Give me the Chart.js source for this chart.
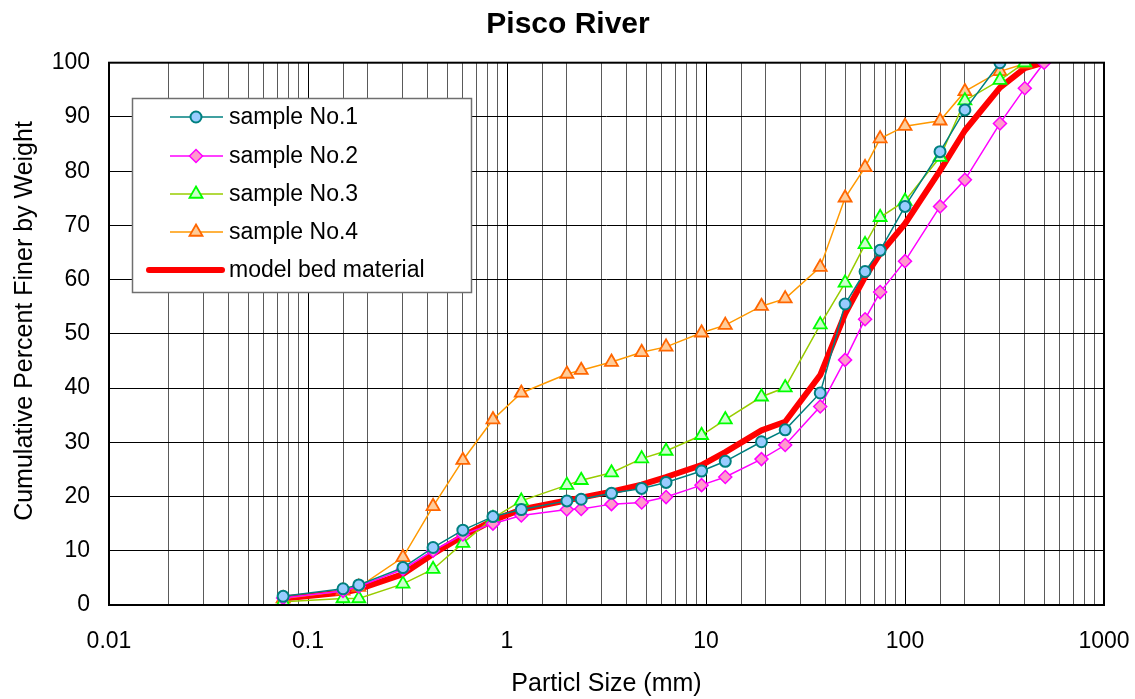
<!DOCTYPE html>
<html>
<head>
<meta charset="utf-8">
<title>Pisco River</title>
<script src="https://cdn.jsdelivr.net/npm/chart.js@4/dist/chart.umd.min.js"></script>
<style>
  html, body { margin: 0; padding: 0; background: #fff; }
  #wrap { width: 1135px; height: 699px; position: relative; }
</style>
</head>
<body>
<div id="wrap"><canvas id="gradChart"></canvas></div>
<script>
// sieve sizes (mm), shared by every series
const sieveSizes = [0.075, 0.15, 0.18, 0.3, 0.425, 0.6, 0.85, 1.18, 2, 2.36, 3.35, 4.75, 6.3,
  9.5, 12.5, 19, 25, 37.5, 50, 63, 75, 100, 150, 200, 300, 400, 500];

// cumulative percent finer
const sample1 = [1.6, 3.0, 3.7, 6.9, 10.6, 13.8, 16.3, 17.6, 19.2, 19.5, 20.6, 21.5, 22.6,
  24.7, 26.5, 30.1, 32.3, 39.1, 55.5, 61.5, 65.4, 73.5, 83.6, 91.3, 100];
const sample2 = [1.3, 2.6, 3.4, 6.6, 10.0, 13.0, 15.0, 16.5, 17.6, 17.7, 18.6, 18.9, 19.9,
  22.1, 23.6, 26.9, 29.5, 36.6, 45.2, 52.7, 57.7, 63.4, 73.5, 78.4, 88.8, 95.3, 100];
const sample3 = [0.6, 1.2, 1.2, 3.9, 6.6, 11.4, 16.0, 19.2, 22.1, 23.0, 24.4, 27.0, 28.4,
  31.3, 34.2, 38.4, 40.1, 51.7, 59.4, 66.5, 71.5, 74.5, 82.6, 93.0, 96.8, 100];
const sample4 = [1.2, 2.6, 3.3, 8.8, 18.2, 26.7, 34.2, 39.1, 42.6, 43.3, 44.8, 46.6, 47.6,
  50.2, 51.6, 55.1, 56.5, 62.3, 75.1, 80.7, 86.0, 88.3, 89.3, 94.7, 98.4, 99.8];
const modelBed = [1.2, 2.3, 2.9, 5.7, 9.4, 12.7, 15.6, 17.6, 19.3, 19.8, 20.9, 22.2, 23.6,
  25.8, 28.2, 32.2, 33.8, 42.4, 53.7, 60.5, 64.8, 70.3, 80.1, 87.5, 95.4, 99.0, 100];

const seriesNames = ['sample No.1', 'sample No.2', 'sample No.3', 'sample No.4', 'model bed material'];
const xTickValues = [0.01, 0.1, 1, 10, 100, 1000];
const xTickLabels = ['0.01', '0.1', '1', '10', '100', '1000'];

const FONT = "'Liberation Sans', Arial, sans-serif";

function toPoints(arr) {
  return arr.map((y, i) => ({ x: sieveSizes[i], y: y }));
}

function isDecade(v) {
  const e = Math.round(Math.log10(v));
  return Math.abs(v - Math.pow(10, e)) < Math.pow(10, e) * 1e-6;
}

// titles, frame and legend box drawn on top
const extras = {
  id: 'extras',
  afterDraw(chart) {
    const ctx = chart.ctx;
    const a = chart.chartArea;
    ctx.save();

    // plot frame
    ctx.strokeStyle = '#000';
    ctx.lineWidth = 2;
    ctx.strokeRect(a.left, a.top, a.right - a.left, a.bottom - a.top);

    // chart title
    ctx.fillStyle = '#000';
    ctx.font = 'bold 30px ' + FONT;
    ctx.textAlign = 'center';
    ctx.textBaseline = 'middle';
    ctx.fillText('Pisco River', 568, 25);

    // y title
    ctx.save();
    ctx.translate(25, 321);
    ctx.rotate(-Math.PI / 2);
    ctx.font = '25px ' + FONT;
    ctx.fillText('Cumulative Percent Finer by Weight', 0, 0);
    ctx.restore();

    // legend
    const lx = 132.5, ly = 98.5, lw = 339, lh = 194;
    ctx.fillStyle = '#fff';
    ctx.fillRect(lx, ly, lw, lh);
    ctx.strokeStyle = '#6f6f6f';
    ctx.lineWidth = 1.5;
    ctx.strokeRect(lx, ly, lw, lh);

    const rows = [117, 156, 194, 232, 270];
    ctx.font = '23px ' + FONT;
    ctx.textAlign = 'left';
    chart.data.datasets.forEach((ds, i) => {
      const y = rows[i];
      ctx.beginPath();
      ctx.strokeStyle = ds.borderColor;
      ctx.lineWidth = ds.borderWidth;
      ctx.lineCap = i === 4 ? 'round' : 'butt';
      ctx.moveTo(i === 4 ? 149 : 170, y);
      ctx.lineTo(i === 4 ? 222 : 223, y);
      ctx.stroke();
      if (ds.pointRadius > 0) {
        ctx.fillStyle = ds.pointBackgroundColor;
        ctx.strokeStyle = ds.pointBorderColor;
        ctx.lineWidth = ds.pointBorderWidth;
        Chart.helpers.drawPoint(ctx, {
          pointStyle: ds.pointStyle, radius: ds.pointRadius, rotation: 0, borderWidth: ds.pointBorderWidth
        }, 196, y);
      }
      ctx.fillStyle = '#000';
      ctx.fillText(ds.label, 229, y + 1);
    });
    ctx.restore();
  }
};

const ctx = document.getElementById('gradChart').getContext('2d');

new Chart(ctx, {
  type: 'line',
  data: {
    datasets: [
      {
        label: seriesNames[0], data: toPoints(sample1),
        borderColor: '#008080', borderWidth: 1.5,
        pointStyle: 'circle', pointRadius: 5.5, pointBorderWidth: 2,
        pointBackgroundColor: '#99CCFF', pointBorderColor: '#008080'
      },
      {
        label: seriesNames[1], data: toPoints(sample2),
        borderColor: '#FF00FF', borderWidth: 1.5,
        pointStyle: 'rectRot', pointRadius: 6.5, pointBorderWidth: 1.5,
        pointBackgroundColor: '#FF99CC', pointBorderColor: '#FF00FF'
      },
      {
        label: seriesNames[2], data: toPoints(sample3),
        borderColor: '#99CC00', borderWidth: 1.5,
        pointStyle: 'triangle', pointRadius: 7.5, pointBorderWidth: 1.8,
        pointBackgroundColor: '#CCFFCC', pointBorderColor: '#00FF00'
      },
      {
        label: seriesNames[3], data: toPoints(sample4),
        borderColor: '#FF9900', borderWidth: 1.5,
        pointStyle: 'triangle', pointRadius: 7.5, pointBorderWidth: 1.8,
        pointBackgroundColor: '#FFCC99', pointBorderColor: '#FF6600'
      },
      {
        label: seriesNames[4], data: toPoints(modelBed),
        borderColor: '#FF0000', borderWidth: 6,
        borderJoinStyle: 'round', borderCapStyle: 'round',
        pointRadius: 0
      }
    ]
  },
  options: {
    responsive: true,
    maintainAspectRatio: false,
    animation: false,
    layout: { padding: { top: 62.7, right: 31, bottom: 0, left: 0 } },
    plugins: {
      legend: { display: false },
      title: { display: false },
      tooltip: { enabled: false }
    },
    scales: {
      x: {
        type: 'logarithmic',
        min: 0.01,
        max: 1000,
        afterFit: s => { s.height = 94; s.paddingLeft = 0; s.paddingRight = 0; },
        grid: {
          drawTicks: false,
          color: c => isDecade(c.tick.value) ? '#000' : '#5a5a5a',
          lineWidth: 1
        },
        border: { display: false },
        ticks: {
          autoSkip: false,
          maxRotation: 0,
          padding: 23,
          color: '#000',
          font: { family: FONT, size: 23 },
          callback: v => {
            const i = xTickValues.findIndex(t => Math.abs(t - v) < t * 1e-6);
            return i >= 0 ? xTickLabels[i] : '';
          }
        },
        title: {
          display: true,
          text: 'Particl Size (mm)',
          color: '#000',
          font: { family: FONT, size: 25 },
          padding: { top: 0, bottom: 0 }
        }
      },
      y: {
        min: 0,
        max: 100,
        afterFit: s => { s.width = 109; s.paddingTop = 0; s.paddingBottom = 0; },
        grid: { drawTicks: false, color: '#000', lineWidth: 1 },
        border: { display: false },
        ticks: {
          stepSize: 10,
          padding: 19,
          color: '#000',
          font: { family: FONT, size: 23 }
        }
      }
    }
  },
  plugins: [extras]
});
</script>
</body>
</html>
